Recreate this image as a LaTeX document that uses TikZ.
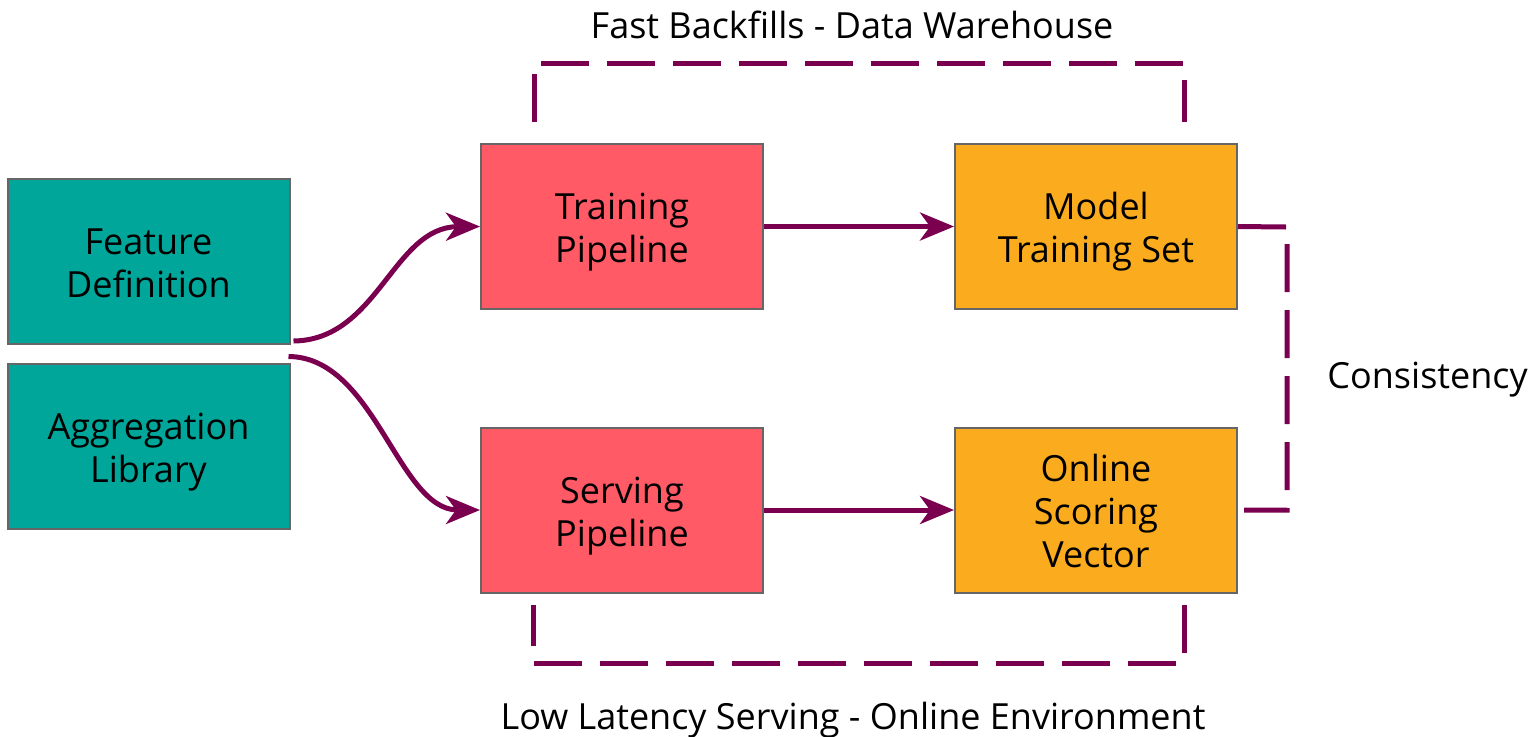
\documentclass[tikz,border=0pt]{standalone}
\usepackage{fontspec}
\setmainfont{Open Sans}
\usetikzlibrary{arrows.meta,calc}
\definecolor{teal}{RGB}{0,166,153}
\definecolor{redbox}{RGB}{255,90,101}
\definecolor{orangebox}{RGB}{251,172,30}
\definecolor{plum}{RGB}{122,0,79}
\definecolor{edgegray}{RGB}{102,102,102}
\newcommand\boxtext[1]{\raisebox{-3pt}[\height][\depth]{\begin{tabular}{@{}c@{}}#1\end{tabular}}}
\begin{document}
\begin{tikzpicture}[x=0.5pt,y=-0.5pt,
  box/.style={draw=edgegray,line width=1pt,minimum width=141pt,minimum height=82.5pt,
    inner sep=0pt,font=\fontsize{18}{21.5}\selectfont},
  lbl/.style={font=\fontsize{18}{21.5}\selectfont,inner sep=0pt,anchor=base},
  flow/.style={draw=plum,line width=2.5pt,-{Stealth[length=17pt,width=14pt,inset=5pt]}},
  bracket/.style={draw=plum,line width=2.5pt,dash pattern=on 24pt off 9pt}]
\useasboundingbox (0,0) rectangle (1536,736);
\node[box,fill=teal] (FD) at (148.5,261.5) {\boxtext{Feature\\Definition}};
\node[box,fill=teal] (AL) at (148.5,446) {\boxtext{Aggregation\\Library}};
\node[box,fill=redbox] (TP) at (622,226.5) {\boxtext{Training\\Pipeline}};
\node[box,fill=redbox] (SP) at (622,510) {\boxtext{Serving\\Pipeline}};
\node[box,fill=orangebox] (MT) at (1096,226.5) {\boxtext{Model\\Training Set}};
\node[box,fill=orangebox] (OS) at (1096,510) {\boxtext{Online\\Scoring\\Vector}};
\node[lbl] (top) at (852,38) {Fast Backfills - Data Warehouse};
\node[lbl] (bot) at (853,729) {Low Latency Serving - Online Environment};
\node[lbl,anchor=base west] (cons) at (1327,388) {Consistency};
% curved arrows
\path[flow] ($(FD.south east)+(3,-4)$) .. controls (378,340) and (393,227) .. (TP.west);
\path[flow] ($(AL.north east)+(-2,-6)$) .. controls (375,357) and (398,510) .. (SP.west);
% straight arrows
\path[flow] (TP.east) -- (MT.west);
\path[flow] (SP.east) -- (OS.west);
% dashed brackets
\coordinate (t1) at (534,122);
\coordinate (t2) at (1184,122);
\path[bracket] (t1) -- (534,63) -- (1184,63) -- (t2);
\coordinate (b1) at (1184,605);
\coordinate (b2) at (533,605);
\path[bracket] (b1) -- (1184,663) -- (533,663) -- (b2);
\coordinate (r1) at (1287,227);
\coordinate (r2) at (1287,510);
\path[bracket] (MT.east) -- (r1) -- (r2) -- ($(OS.east)+(6,0)$);
\end{tikzpicture}
\end{document}
